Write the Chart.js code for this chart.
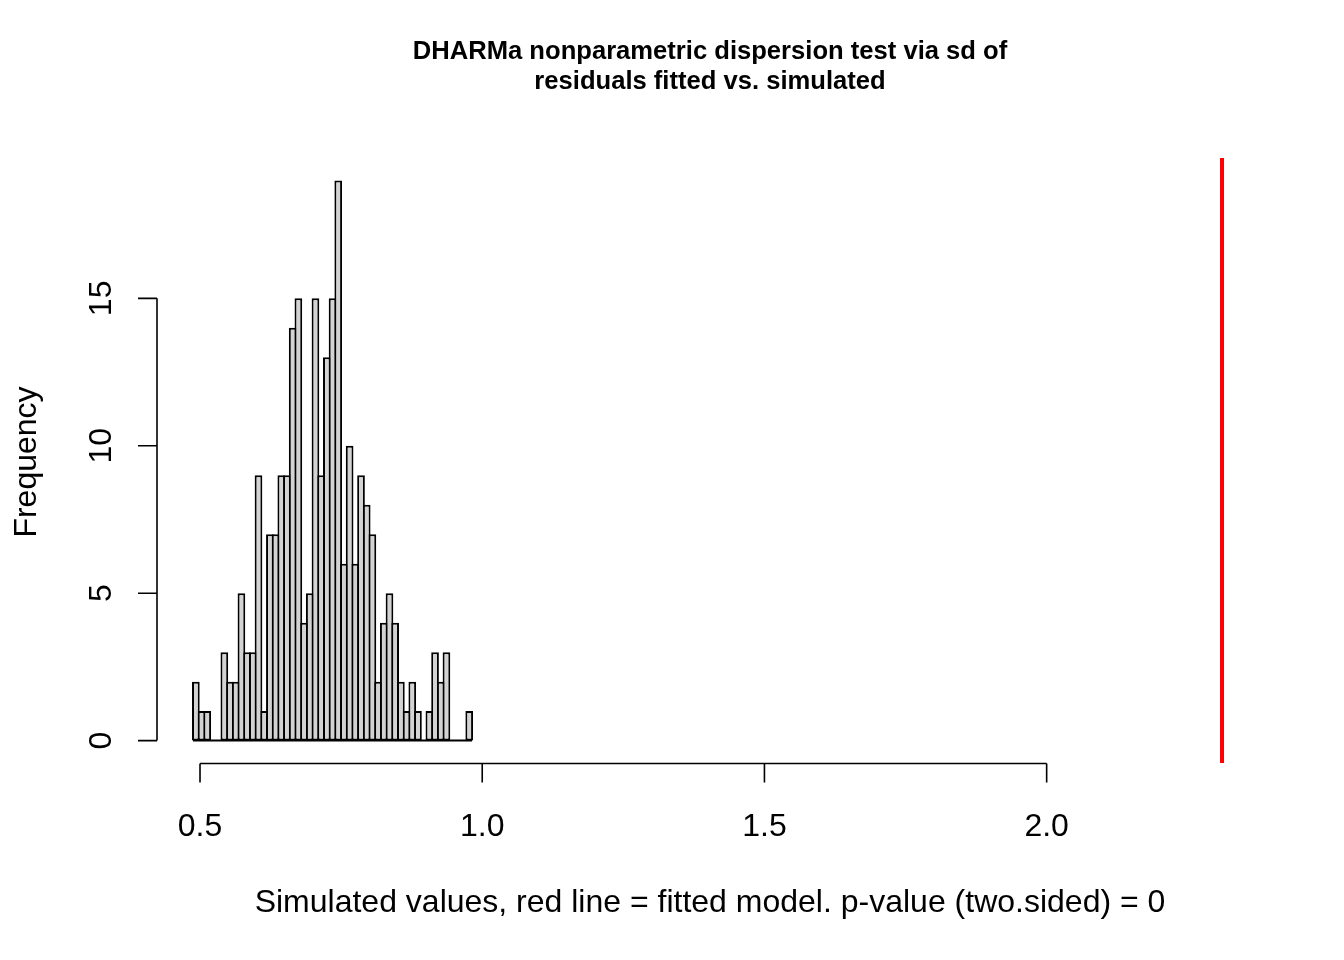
<!DOCTYPE html>
<html>
<head>
<meta charset="utf-8">
<title>DHARMa dispersion test</title>
<script src="https://cdn.jsdelivr.net/npm/chart.js@4.4.1/dist/chart.umd.min.js"></script>
<style>
	html, body { margin: 0; padding: 0; background: #ffffff; }
	#grafico { display: block; }
</style>
</head>
<body>
<canvas id="grafico" width="1344" height="960"></canvas>
<script>
// Istogramma dei valori simulati (50 breaks da DHARMa)
const binStart = 0.4876;
const binWidth = 0.01009;
const counts = [2, 1, 1, 0, 0, 3, 2, 2, 5, 3, 3, 9, 1, 7, 7, 9, 9, 14, 15, 4, 5, 15, 9, 13, 15, 19, 6, 10, 6, 9, 8, 7, 2, 4, 5, 4, 2, 1, 2, 1, 0, 1, 3, 2, 3, 0, 0, 0, 1];
const observed = 2.3107;

const xTicks = [0.5, 1.0, 1.5, 2.0];
const xTickLabels = ["0.5", "1.0", "1.5", "2.0"];
const yTicks = [0, 5, 10, 15];
const yTickLabels = ["0", "5", "10", "15"];

const titleLines = ["DHARMa nonparametric dispersion test via sd of", "residuals fitted vs. simulated"];
const xLabel = "Simulated values, red line = fitted model. p-value (two.sided) = 0";
const yLabel = "Frequency";

// limiti come in R (estensione del 4%)
const xMin = 0.4238, xMax = 2.3833;
const yMin = -0.76, yMax = 19.76;

let barData = counts.map((c, i) => ({ x: binStart + binWidth * (i + 0.5), y: c }));
let baseLine = [{ x: binStart, y: 0 }, { x: binStart + binWidth * counts.length, y: 0 }];
let redLine = [{ x: observed, y: yMin }, { x: observed, y: yMax }];

const FONT = "'Liberation Sans', Arial, Helvetica, sans-serif";

// Assi in stile R disegnati a mano
const assiR = {
	id: 'assiR',
	afterDraw(chart) {
		let ctx = chart.ctx;
		let xs = chart.scales.x, ys = chart.scales.y;
		let area = chart.chartArea;
		ctx.save();
		ctx.strokeStyle = '#000';
		ctx.fillStyle = '#000';
		ctx.lineWidth = 1.6;

		// asse x
		let axY = area.bottom + 0.5;
		ctx.beginPath();
		ctx.moveTo(xs.getPixelForValue(xTicks[0]), axY);
		ctx.lineTo(xs.getPixelForValue(xTicks[xTicks.length - 1]), axY);
		xTicks.forEach(v => {
			let px = xs.getPixelForValue(v);
			ctx.moveTo(px, axY);
			ctx.lineTo(px, axY + 19);
		});
		ctx.stroke();
		ctx.font = `32px ${FONT}`;
		ctx.textAlign = 'center';
		ctx.textBaseline = 'alphabetic';
		xTicks.forEach((v, i) => ctx.fillText(xTickLabels[i], xs.getPixelForValue(v), 836));

		// asse y
		let axX = area.left;
		ctx.beginPath();
		ctx.moveTo(axX, ys.getPixelForValue(yTicks[0]));
		ctx.lineTo(axX, ys.getPixelForValue(yTicks[yTicks.length - 1]));
		yTicks.forEach(v => {
			let py = ys.getPixelForValue(v);
			ctx.moveTo(axX, py);
			ctx.lineTo(axX - 19, py);
		});
		ctx.stroke();
		yTicks.forEach((v, i) => {
			ctx.save();
			ctx.translate(111, ys.getPixelForValue(v));
			ctx.rotate(-Math.PI / 2);
			ctx.fillText(yTickLabels[i], 0, 0);
			ctx.restore();
		});

		// etichette
		ctx.fillText(xLabel, (area.left + area.right) / 2, 912);
		ctx.save();
		ctx.translate(36, 462);
		ctx.rotate(-Math.PI / 2);
		ctx.fillText(yLabel, 0, 0);
		ctx.restore();

		// titolo
		ctx.font = `bold 25.6px ${FONT}`;
		ctx.fillText(titleLines[0], (area.left + area.right) / 2, 59);
		ctx.fillText(titleLines[1], (area.left + area.right) / 2, 89);
		ctx.restore();
	}
};

new Chart(document.getElementById('grafico'), {
	data: {
		datasets: [
			{
				type: 'line',
				data: baseLine,
				borderColor: '#000000',
				borderWidth: 2,
				pointRadius: 0,
			},
			{
				type: 'bar',
				data: barData,
				backgroundColor: '#d3d3d3',
				borderColor: '#000000',
				borderWidth: 2,
				borderSkipped: false,
				// le barre si sovrappongono di 2px così i bordi sono condivisi come in R
				barPercentage: 1.35,
				categoryPercentage: 1,
			},
			{
				type: 'line',
				data: redLine,
				borderColor: '#ff0000',
				borderWidth: 4,
				pointRadius: 0,
			}
		]
	},
	options: {
		responsive: false,
		animation: false,
		layout: { padding: { left: 157, right: 81, top: 158, bottom: 197 } },
		plugins: { legend: { display: false }, tooltip: { enabled: false }, title: { display: false } },
		scales: {
			x: { type: 'linear', min: xMin, max: xMax, offset: false, display: false },
			y: { type: 'linear', min: yMin, max: yMax, display: false },
		},
	},
	plugins: [assiR],
});
</script>
</body>
</html>
